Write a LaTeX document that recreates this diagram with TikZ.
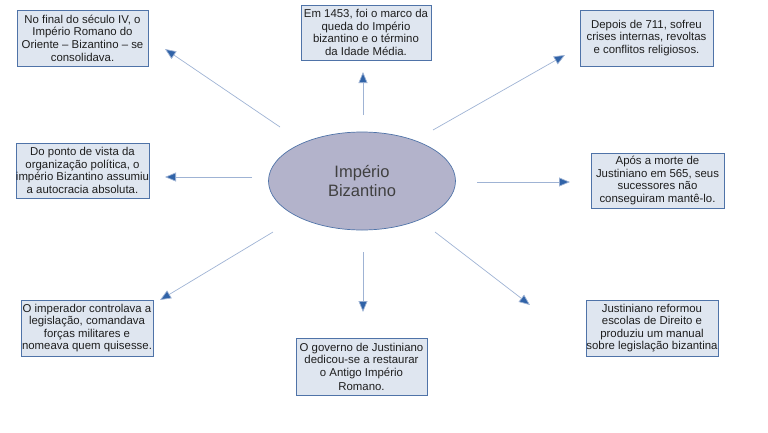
\documentclass[tikz,border=0pt]{standalone}
\usepackage{fontspec}
\setmainfont{Liberation Sans}
\usepackage{tikz}
\usetikzlibrary{positioning,arrows.meta,shapes.geometric}

\definecolor{boxfill}{HTML}{DFE6F0}
\definecolor{boxline}{HTML}{4F73A8}
\definecolor{ellfill}{HTML}{B3B3CB}
\definecolor{arrline}{HTML}{9FB3D4}
\definecolor{arrtip}{HTML}{3063A8}
\definecolor{txt}{HTML}{1E1E1E}

\begin{document}
\begin{tikzpicture}[
        x=1pt, y=-1pt,
        fact/.style={rectangle, draw=boxline, fill=boxfill, line width=0.7pt, minimum width=131pt, minimum height=56pt, inner sep=0pt, align=center, text=txt, font=\fontsize{11.4}{12.6}\selectfont},
        centre/.style={ellipse, draw=boxline, fill=ellfill, line width=0.7pt, minimum width=187pt, minimum height=98pt, align=center, text=black!75, font=\fontsize{16.5}{18.5}\selectfont},
        ray/.style={-{Triangle[length=11pt, width=9pt, fill=arrtip]}, draw=arrline, line width=0.7pt}
      ]
      \useasboundingbox (0,0) rectangle (768,432);

      % Centre
      \node[centre] (imperio) at (362,181) {Império\\Bizantino};

      % Top row
      \node[fact] (seculoIV) at (82.5,38) {No final do século IV, o\\Império Romano do\\Oriente -- Bizantino -- se\\consolidava.};
      \node[fact, minimum width=130pt, minimum height=55pt] (queda) at (366,32.5) {Em 1453, foi o marco da\\queda do Império\\bizantino e o término\\da Idade Média.};
      \node[fact, minimum width=133pt] (crises) at (646.5,38) {Depois de 711, sofreu\\crises internas, revoltas\\e conflitos religiosos.};

      % Middle row
      \node[fact, minimum height=55pt] (politica) at (82.5,170.5) {Do ponto de vista da\\organização política, o\\império Bizantino assumiu\\a autocracia absoluta.};
      \node[fact, minimum width=133pt, minimum height=55pt] (sucessores) at (657.5,180.5) {Após a morte de\\Justiniano em 565, seus\\sucessores não\\conseguiram mantê-lo.};

      % Bottom row
      \node[fact, minimum width=132pt] (imperador) at (87,328) {O imperador controlava a\\legislação, comandava\\forças militares e\\nomeava quem quisesse.};
      \node[fact, minimum height=57pt, anchor=north] (governo) at (361.5,338) {O governo de Justiniano\\dedicou-se a restaurar\\o Antigo Império\\[2pt]Romano.};
      \node[fact, minimum width=132pt] (reforma) at (652,328) {Justiniano reformou\\escolas de Direito e\\produziu um manual\\sobre legislação bizantina};

      % Arrow ends
      \coordinate (tSeculo) at (280,127);  \coordinate (hSeculo) at (165,49);
      \coordinate (tQueda) at (363,115);   \coordinate (hQueda) at (363,72);
      \coordinate (tCrises) at (433,130);  \coordinate (hCrises) at (565,55);
      \coordinate (tPolitica) at (252,177); \coordinate (hPolitica) at (165,177);
      \coordinate (tSuces) at (477,182);   \coordinate (hSuces) at (570,182);
      \coordinate (tImper) at (273,232);   \coordinate (hImper) at (160,300);
      \coordinate (tGoverno) at (363,252); \coordinate (hGoverno) at (363,312);
      \coordinate (tReforma) at (435,232); \coordinate (hReforma) at (530,305);

      % Arrows
      \draw[ray] (tSeculo) -- (hSeculo);
      \draw[ray] (tQueda) -- (hQueda);
      \draw[ray] (tCrises) -- (hCrises);
      \draw[ray] (tPolitica) -- (hPolitica);
      \draw[ray] (tSuces) -- (hSuces);
      \draw[ray] (tImper) -- (hImper);
      \draw[ray] (tGoverno) -- (hGoverno);
      \draw[ray] (tReforma) -- (hReforma);

    \end{tikzpicture}
\end{document}
